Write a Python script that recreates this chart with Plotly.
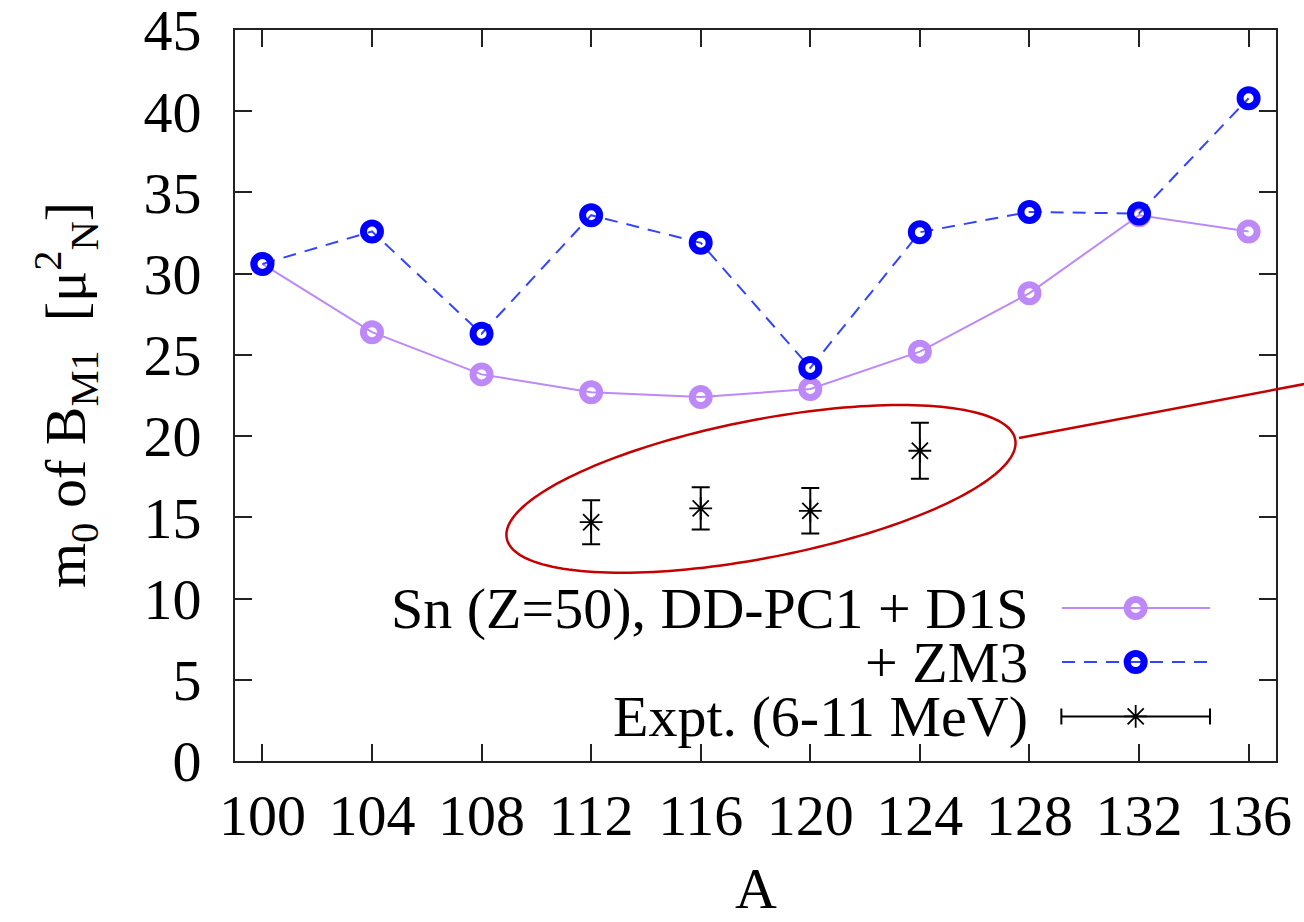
import numpy as np
import plotly.graph_objects as go

# Mass number A of the Sn isotopes
mass_number = [100, 104, 108, 112, 116, 120, 124, 128, 132, 136]

# m0 of B(M1) in mu_N^2
ddpc1_d1s = [30.6, 26.4, 23.8, 22.7, 22.4, 22.9, 25.2, 28.8, 33.6, 32.6]
ddpc1_zm3 = [30.6, 32.6, 26.3, 33.6, 31.9, 24.2, 32.55, 33.8, 33.7, 40.8]

# Experimental values (6-11 MeV)
expt_a = [112, 116, 120, 124]
expt_val = [14.7, 15.55, 15.4, 19.1]
expt_err = [1.35, 1.3, 1.4, 1.72]

x_ticks = [100, 104, 108, 112, 116, 120, 124, 128, 132, 136]
y_ticks = [0, 5, 10, 15, 20, 25, 30, 35, 40, 45]

PURPLE = "#bd88f7"
BLUE = "#0000ff"
DASHBLUE = "#3344ff"
DARKRED = "#c40000"
FONT = "Liberation Serif"
FS = 58

W, H = 1304, 922
ML, MR, MT, MB = 235, 28, 30, 161
XR = [99, 137]
YR = [0, 45]
pw, ph = W - ML - MR, H - MT - MB
px_per_x = pw / (XR[1] - XR[0])
px_per_y = ph / (YR[1] - YR[0])

fig = go.Figure()

fig.add_trace(go.Scatter(
    x=mass_number, y=ddpc1_d1s, mode="lines+markers",
    line=dict(color=PURPLE, width=2),
    marker=dict(symbol="circle-open", size=17, color=PURPLE, line=dict(width=7, color=PURPLE)),
    showlegend=False))

fig.add_trace(go.Scatter(
    x=mass_number, y=ddpc1_zm3, mode="lines+markers",
    line=dict(color=DASHBLUE, width=2, dash="13px,9px"),
    marker=dict(symbol="circle-open", size=17, color=BLUE, line=dict(width=7, color=BLUE)),
    showlegend=False))

fig.add_trace(go.Scatter(
    x=expt_a, y=expt_val, mode="markers",
    marker=dict(symbol="asterisk-open", size=19, color="black", line=dict(width=1.8, color="black")),
    error_y=dict(type="data", array=expt_err, visible=True, color="black", thickness=2, width=9),
    showlegend=False))

# Ring drawn around the experimental points (center in data units, axes in pixels)
ring_cx, ring_cy = 118.2, 16.75
ring_a, ring_b, ring_tilt = 259.0, 69.0, np.deg2rad(11.0)
t = np.linspace(0, 2 * np.pi, 181)
dx = ring_a * np.cos(ring_tilt) * np.cos(t) - ring_b * np.sin(ring_tilt) * np.sin(t)
dy = ring_a * np.sin(ring_tilt) * np.cos(t) + ring_b * np.cos(ring_tilt) * np.sin(t)
ex = ring_cx + dx / px_per_x
ey = ring_cy + dy / px_per_y
path = "M " + " L ".join(f"{a:.4f},{b:.4f}" for a, b in zip(ex, ey)) + " Z"
fig.add_shape(type="path", path=path, xref="x", yref="y",
              line=dict(color=DARKRED, width=2.5))

# Pointer line leading off to the right
fig.add_shape(type="line", xref="paper", yref="paper",
              x0=(1019 - ML) / pw, y0=(H - MB - 438) / ph,
              x1=(1310 - ML) / pw, y1=(H - MB - 383) / ph,
              line=dict(color=DARKRED, width=2.5))

# Legend key drawn on an overlay axis spanning [0, 1]
key_x0, key_xm, key_x1 = 0.7944, 0.8652, 0.9366
rows = [0.2093, 0.1353, 0.061]
fig.add_trace(go.Scatter(x=[key_x0, key_x1], y=[rows[0]] * 2, mode="lines",
                         line=dict(color=PURPLE, width=2), xaxis="x2", yaxis="y2", showlegend=False))
fig.add_trace(go.Scatter(x=[key_xm], y=[rows[0]], mode="markers",
                         marker=dict(symbol="circle-open", size=17, color=PURPLE, line=dict(width=7, color=PURPLE)),
                         xaxis="x2", yaxis="y2", showlegend=False))
fig.add_trace(go.Scatter(x=[key_x0, key_x1], y=[rows[1]] * 2, mode="lines",
                         line=dict(color=DASHBLUE, width=2, dash="13px,9px"), xaxis="x2", yaxis="y2", showlegend=False))
fig.add_trace(go.Scatter(x=[key_xm], y=[rows[1]], mode="markers",
                         marker=dict(symbol="circle-open", size=17, color=BLUE, line=dict(width=7, color=BLUE)),
                         xaxis="x2", yaxis="y2", showlegend=False))
fig.add_trace(go.Scatter(x=[key_xm], y=[rows[2]], mode="markers",
                         marker=dict(symbol="asterisk-open", size=19, color="black", line=dict(width=1.8, color="black")),
                         error_x=dict(type="constant", value=key_x1 - key_xm, visible=True, color="black", thickness=2, width=8),
                         xaxis="x2", yaxis="y2", showlegend=False))

labels = ["Sn (Z=50), DD-PC1 + D1S", "+ ZM3", "Expt. (6-11 MeV)"]
for lab, ry in zip(labels, rows):
    fig.add_annotation(x=0.7637, y=ry, xref="paper", yref="paper", text=lab,
                       showarrow=False, xanchor="right", yanchor="middle",
                       font=dict(family=FONT, size=FS, color="black"))

# Axis titles
fig.add_annotation(x=(66 - ML) / pw, y=(H - MB - 395) / ph, xref="paper", yref="paper",
                   text="m<sub>0</sub> of B<sub>M1</sub>  [μ<sup>2</sup><sub>N</sub>]",
                   textangle=-90, showarrow=False, xanchor="center", yanchor="middle",
                   font=dict(family=FONT, size=FS, color="black"))
fig.add_annotation(x=0.5, y=(H - MB - 888) / ph, xref="paper", yref="paper", text="A",
                   showarrow=False, xanchor="center", yanchor="middle",
                   font=dict(family=FONT, size=FS, color="black"))

axis_common = dict(showgrid=False, zeroline=False, showline=True, linecolor="#222",
                   linewidth=2, ticks="inside", ticklen=17, tickwidth=2, tickcolor="#222",
                   mirror="allticks", automargin=False, ticklabeloverflow="allow",
                   tickfont=dict(family=FONT, size=FS, color="black"))
fig.update_layout(
    width=W, height=H,
    margin=dict(l=ML, r=MR, t=MT, b=MB, autoexpand=False),
    paper_bgcolor="white", plot_bgcolor="white",
    xaxis=dict(range=XR, tickmode="array", tickvals=x_ticks, ticklabelstandoff=2, **axis_common),
    yaxis=dict(range=YR, tickmode="array", tickvals=y_ticks, ticklabelstandoff=20, **axis_common),
    xaxis2=dict(range=[0, 1], overlaying="x", visible=False),
    yaxis2=dict(range=[0, 1], overlaying="y", visible=False),
)

fig.write_html("out.html")
